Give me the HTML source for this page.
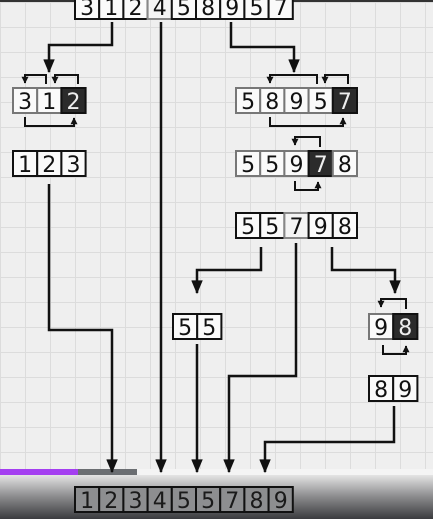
<!DOCTYPE html>
<html><head><meta charset="utf-8"><style>
html,body{margin:0;padding:0;width:433px;height:519px;overflow:hidden;background:#efefef}
svg{display:block}
text{font-family:"DejaVu Sans","Liberation Sans",sans-serif;font-size:22px;text-anchor:middle}
</style></head><body>
<svg width="433" height="519" viewBox="0 0 433 519">
<defs>
<pattern id="g" width="25" height="25" patternUnits="userSpaceOnUse" x="0" y="2">
<rect width="25" height="25" fill="#efefef"/>
<path d="M0 0.5H25M0.5 0V25" stroke="#dcdcdc" stroke-width="1"/>
</pattern>
<linearGradient id="bot" x1="0" y1="0" x2="0" y2="1">
<stop offset="0" stop-color="#e4e4e4"/><stop offset="0.5" stop-color="#8a8a8c"/><stop offset="1" stop-color="#3a3b3e"/>
</linearGradient>
<marker id="ah" viewBox="0 0 12 10" refX="11" refY="5" markerWidth="6.5" markerHeight="4.6" orient="auto">
<path d="M0 0L12 5L0 10Z" fill="#111"/></marker>
<marker id="sa" viewBox="0 0 10 10" refX="9" refY="5" markerWidth="3.5" markerHeight="3.5" orient="auto">
<path d="M0 0L10 5L0 10Z" fill="#111"/></marker>
</defs>
<rect width="433" height="519" fill="url(#g)"/>
<rect x="0" y="0" width="433" height="2" fill="#333"/>
<rect x="0" y="475" width="433" height="44" fill="url(#bot)"/>
<rect x="0" y="469" width="433" height="6" fill="#f4f4f4"/>
<rect x="78" y="469" width="59" height="6" fill="#6b6e72"/>
<rect x="0" y="469" width="78" height="6" fill="#a43ff0"/>

<g id="arrows" fill="none" stroke="#111" stroke-width="2.5">
<path d="M112 22V45H49V72" marker-end="url(#ah)"/>
<path d="M161 22V472" marker-end="url(#ah)"/>
<path d="M231 22V47H294V72" marker-end="url(#ah)"/>
<path d="M49 184V330H112V472" marker-end="url(#ah)"/>
<path d="M197 344V472" marker-end="url(#ah)"/>
<path d="M296 243V376H229V472" marker-end="url(#ah)"/>
<path d="M261 247V270H197V293" marker-end="url(#ah)"/>
<path d="M332 247V270H395V293" marker-end="url(#ah)"/>
<path d="M394 406V442H265V472" marker-end="url(#ah)"/>
</g>
<g fill="none" stroke="#111" stroke-width="2">
<path d="M46 84V75H25V83" marker-end="url(#sa)"/>
<path d="M78 84V75H55V83" marker-end="url(#sa)"/>
<path d="M25 117V126H74V118" marker-end="url(#sa)"/>
<path d="M317 84V75H270V83" marker-end="url(#sa)"/>
<path d="M348 84V75H325V83" marker-end="url(#sa)"/>
<path d="M270 117V126H343V118" marker-end="url(#sa)"/>
<path d="M320 147V137H295V145" marker-end="url(#sa)"/>
<path d="M295 181V190H318V182" marker-end="url(#sa)"/>
<path d="M406 309V299H381V307" marker-end="url(#sa)"/>
<path d="M383 345V354H406V346" marker-end="url(#sa)"/>
</g>
<g id="boxes"></g>
</svg>
<script>
const rows = [
 {name:'input-array', x:75, y:-6, vals:[3,1,2,4,5,8,9,5,7], gray:[3], dark:[], light:false},
 {name:'left-partition', x:13, y:88, vals:[3,1,2], gray:[], dark:[2], light:true},
 {name:'left-sorted', x:13, y:151, vals:[1,2,3], gray:[], dark:[], light:false},
 {name:'right-partition', x:236, y:88, vals:[5,8,9,5,7], gray:[], dark:[4], light:true},
 {name:'right-step', x:236, y:151, vals:[5,5,9,7,8], gray:[], dark:[3], light:true},
 {name:'right-pivoted', x:236, y:213, vals:[5,5,7,9,8], gray:[2], dark:[], light:false},
 {name:'fives-array', x:173, y:314, vals:[5,5], gray:[], dark:[], light:false},
 {name:'nine-eight-array', x:369, y:314, vals:[9,8], gray:[], dark:[1], light:true},
 {name:'eight-nine-array', x:369, y:376, vals:[8,9], gray:[], dark:[], light:false},
 {name:'sorted-output', x:75, y:487, vals:[1,2,3,4,5,5,7,8,9], gray:[], dark:[], light:false, out:true}
];
const W=24.2, H=25, ns='http://www.w3.org/2000/svg';
const g=document.getElementById('boxes');
rows.forEach(r=>{
 const grp=document.createElementNS(ns,'g');
 
 
 r.vals.forEach((v,i)=>{
  const x=r.x+i*W;
  const isD=r.dark.includes(i), isG=r.gray.includes(i);
  const rc=document.createElementNS(ns,'rect');
  rc.setAttribute('x',x);rc.setAttribute('y',r.y);rc.setAttribute('width',W);rc.setAttribute('height',H);
  let fill=r.out?'#8d8e90':'#fafafa', stroke=r.light?'#777':'#111';
  if(isD){fill='#2b2b2b';stroke='#111';}
  if(isG){fill='#f4f4f4';stroke='#888';}
  rc.setAttribute('fill',fill);rc.setAttribute('stroke',stroke);rc.setAttribute('stroke-width','2');
  
  
  grp.appendChild(rc);
  const t=document.createElementNS(ns,'text');
  t.setAttribute('x',x+W/2);t.setAttribute('y',r.y+H-4);
  t.setAttribute('fill',isD?'#eee':(r.out?'#1a1a1a':'#111'));
  t.textContent=v;
  
  
  grp.appendChild(t);
 });
 g.appendChild(grp);
});
</script>
</body></html>
